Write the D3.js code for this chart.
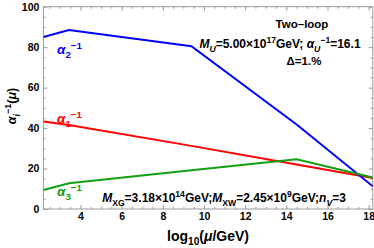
<!DOCTYPE html>
<html>
<head>
<meta charset="utf-8">
<script src="https://cdn.jsdelivr.net/npm/d3@7"></script>
<style>
  body { margin: 0; background: #fff; }
  text { font-family: "Liberation Sans", Arial, sans-serif; font-weight: bold; }
  .axis path, .axis line { stroke: #999; }
  .axis text { fill: #000; font-size: 10.5px; font-weight: bold; }
</style>
</head>
<body>
<div id="chart"></div>
<script>
// scale points, log10(mu/GeV)
var logMu = [2.2, 3.44, 9.39, 14.5, 18.2];
var alpha1 = [43.2, 41.5, 31.2, 22.0, 15.3];
var alpha2 = [85.0, 88.5, 80.5, 41.8, 11.2];
var alpha3 = [9.4, 12.7, 19.1, 24.6, 15.6];
var xTicks = [4, 6, 8, 10, 12, 14, 16, 18];
var yTicks = [0, 20, 40, 60, 80, 100];

var W = 374, H = 248;
var margin = {top: 6.7, right: 1.2, bottom: 39, left: 43.4},
    width = W - margin.left - margin.right,
    height = H - margin.top - margin.bottom;

var svg = d3.select("#chart").append("svg")
    .attr("width", W)
    .attr("height", H);

var g = svg.append("g")
    .attr("transform", "translate(" + margin.left + "," + margin.top + ")");

var x = d3.scaleLinear().domain([2.2, 18.2]).range([0, width]);
var y = d3.scaleLinear().domain([0, 100]).range([height, 0]);

var xMinor = d3.range(2.5, 18.21, 0.5).filter(function(v) { return v % 2 !== 0; });
var yMinor = d3.range(5, 100, 5).filter(function(v) { return v % 20 !== 0; });

function frameAxis(axisFn, scale, ticks, minor, labels, transform) {
    var ga = g.append("g").attr("class", "axis").attr("transform", transform);
    ga.call(axisFn(scale).tickValues(minor).tickSize(-2).tickFormat(""));
    ga.select(".domain").remove();
    var gb = g.append("g").attr("class", "axis").attr("transform", transform);
    gb.call(axisFn(scale).tickValues(ticks).tickSize(-4).tickPadding(4)
        .tickFormat(labels ? d3.format("d") : ""));
    gb.select(".domain").remove();
}

frameAxis(d3.axisBottom, x, xTicks, xMinor, true, "translate(0," + height + ")");
frameAxis(d3.axisTop, x, xTicks, xMinor, false, "translate(0,0)");
frameAxis(d3.axisLeft, y, yTicks, yMinor, true, "translate(0,0)");
frameAxis(d3.axisRight, y, yTicks, yMinor, false, "translate(" + width + ",0)");

g.append("rect")
    .attr("width", width).attr("height", height)
    .attr("fill", "none").attr("stroke", "#999").attr("stroke-width", 1);

var clip = svg.append("clipPath").attr("id", "clip")
    .append("rect").attr("width", width).attr("height", height);

var line = d3.line()
    .x(function(d) { return x(d[0]); })
    .y(function(d) { return y(d[1]); });

function addLine(vals, color) {
    g.append("path")
        .datum(d3.zip(logMu, vals))
        .attr("d", line)
        .attr("fill", "none")
        .attr("stroke", color)
        .attr("stroke-width", 2)
        .attr("clip-path", "url(#clip)");
}

var cRed = "#ff0000", cBlue = "#0000ff", cGreen = "#11a011";
addLine(alpha1, cRed);
addLine(alpha2, cBlue);
addLine(alpha3, cGreen);

// text helper: parts = [[text, style]] style: n normal, i italic, sub, sup
function richText(parent, px, py, parts, size, anchor, color) {
    var t = parent.append("text")
        .attr("x", px).attr("y", py)
        .attr("font-size", size)
        .attr("text-anchor", anchor || "start")
        .attr("fill", color || "#000");
    var shift = 0;
    parts.forEach(function(p) {
        var s = t.append("tspan").text(p[0]);
        var kind = p[1] || "n";
        var target = 0;
        if (kind.indexOf("sub") >= 0) target = size * 0.3;
        if (kind.indexOf("sup") >= 0) target = -size * 0.4;
        if (target !== shift) { s.attr("dy", target - shift); shift = target; }
        if (kind.indexOf("sub") >= 0 || kind.indexOf("sup") >= 0) s.attr("font-size", size * 0.72);
        if (kind.indexOf("i") === 0) s.attr("font-style", "italic");
    });
    return t;
}

// curve labels
richText(svg, 57, 54, [["α", "i"], ["2", "sub"], ["−1", "sup"]], 13.5, "start", cBlue);
richText(svg, 57, 123, [["α", "i"], ["1", "sub"], ["−1", "sup"]], 13.5, "start", cRed);
richText(svg, 57, 196, [["α", "i"], ["3", "sub"], ["−1", "sup"]], 13.5, "start", cGreen);

// annotations
richText(svg, 302, 28, [["Two–loop"]], 11.5, "middle");
richText(svg, 280, 48, [["M", "i"], ["U", "isub"], ["=5.00×10"], ["17", "sup"], ["GeV; "],
    ["α", "i"], ["U", "isub"], ["−1", "sup"], ["=16.1"]], 12, "middle");
richText(svg, 304, 65, [["Δ=1.%"]], 11.5, "middle");
richText(svg, 224, 202, [["M", "i"], ["XG", "sub"], ["=3.18×10"], ["14", "sup"], ["GeV;"],
    ["M", "i"], ["XW", "sub"], ["=2.45×10"], ["9", "sup"], ["GeV;"], ["n", "i"], ["V", "isub"], ["=3"]], 12, "middle");

// axis labels
richText(svg, 208, 241, [["log"], ["10", "sub"], ["("], ["μ", "i"], ["/GeV)"]], 14, "middle");
var yl = richText(svg, 0, 0, [["α", "i"], ["i", "isub"], ["−1", "sup"], ["("], ["μ", "i"], [")"]], 12.5, "middle");
yl.attr("transform", "translate(16,106) rotate(-90)");
</script>
</body>
</html>
